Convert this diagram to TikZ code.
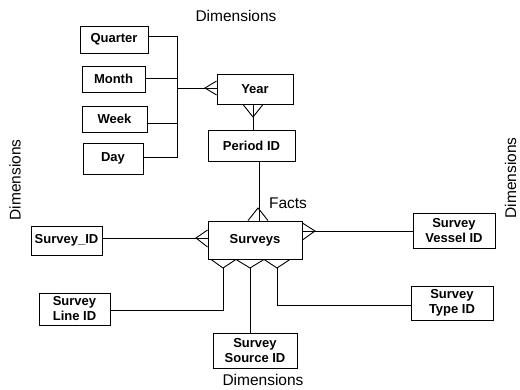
\documentclass[tikz,border=0pt]{standalone}
\usepackage{fontspec}
\setmainfont{Liberation Sans}
\begin{document}
\begin{tikzpicture}[x=1pt,y=-1pt,
  ent/.style={draw,line width=0.9pt,inner sep=0pt,align=center,
    font=\fontsize{13}{15}\selectfont\bfseries},
  lbl/.style={inner sep=0pt,font=\fontsize{15.5}{17}\selectfont},
  conn/.style={line width=0.9pt}]
\useasboundingbox (0,0) rectangle (520,390);
% entities
\node[ent,minimum width=68pt,minimum height=27pt] (quarter) at (114,39.5) {Quarter};
\node[ent,minimum width=63pt,minimum height=26pt] (month) at (113.5,79) {Month};
\node[ent,minimum width=65pt,minimum height=26pt] (week) at (114.5,119) {Week};
\node[ent,minimum width=60pt,minimum height=31pt] (day) at (113,158.5) {Day};
\node[ent,minimum width=76pt,minimum height=30pt] (year) at (255,89) {Year};
\node[ent,minimum width=87pt,minimum height=31pt] (period) at (251.5,145.5) {Period ID};
\node[ent,minimum width=94pt,minimum height=38pt] (surveys) at (255,240) {Surveys};
\node[ent,minimum width=71pt,minimum height=29pt] (sid) at (66.5,240.5) {Survey\_ID};
\node[ent,minimum width=82pt,minimum height=35pt] (vessel) at (454,230.5) {Survey\\Vessel ID};
\node[ent,minimum width=71pt,minimum height=32pt] (line) at (74.5,309) {Survey\\Line ID};
\node[ent,minimum width=84pt,minimum height=35pt] (source) at (255,350.5) {Survey\\Source ID};
\node[ent,minimum width=82pt,minimum height=34pt] (type) at (452,303) {Survey\\Type ID};
% labels
\node[lbl] (dtop) at (236,16) {Dimensions};
\node[lbl,rotate=90] (dleft) at (15,180) {Dimensions};
\node[lbl,rotate=90] (dright) at (510.5,178) {Dimensions};
\node[lbl] (facts) at (288,203) {Facts};
\node[lbl] (dbot) at (263,380) {Dimensions};
% coordinates
\coordinate (bustop) at (177,36);
\coordinate (busbot) at (177,157);
\coordinate (busmid) at (177,88);
% time hierarchy
\draw[conn] (quarter.east |- bustop) -- (bustop) -- (busbot) -- (day.east |- busbot);
\draw[conn] (month.east |- 0,78) -- (177,78);
\draw[conn] (week.east |- 0,123) -- (177,123);
\draw[conn] (busmid) -- (year.west |- busmid);
\draw[conn] (year.west |- 0,81) -- (205,88) -- (year.west |- 0,95);
% year - period
\draw[conn] (year.south -| 253,0) -- (period.north -| 253,0);
\draw[conn] (year.south -| 243,0) -- (253,117) -- (year.south -| 263,0);
% period - surveys
\draw[conn] (period.south -| 259,0) -- (surveys.north -| 259,0);
\draw[conn] (surveys.north -| 248,0) -- (258,208) -- (surveys.north -| 268,0);
% surveys - vessel
\draw[conn] (surveys.east |- 0,231) -- (vessel.west |- 0,231);
\draw[conn] (surveys.east |- 0,223) -- (315,231) -- (surveys.east |- 0,240);
% surveys - survey_id
\draw[conn] (sid.east |- 0,238) -- (surveys.west |- 0,238);
\draw[conn] (surveys.west |- 0,230) -- (196,238) -- (surveys.west |- 0,247);
% bottom crow's feet
\draw[conn] (surveys.south -| 211,0) -- (223,268) -- (surveys.south -| 236,0) -- (250,268)
  -- (surveys.south -| 264,0) -- (277,268) -- (surveys.south -| 290,0);
\draw[conn] (223,268) |- (line.east |- 0,310);
\draw[conn] (250,268) -- (source.north -| 250,0);
\draw[conn] (277,268) |- (type.west |- 0,305);
\end{tikzpicture}
\end{document}
